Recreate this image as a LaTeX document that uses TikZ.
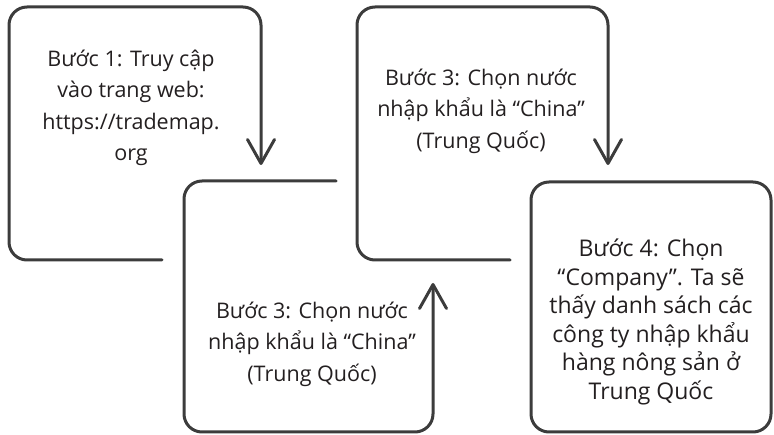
\documentclass[tikz,border=0pt]{standalone}
\usepackage{fontspec}
\setmainfont{Open Sans}
\usetikzlibrary{arrows.meta}
\definecolor{strich}{HTML}{3C3C3C}
\definecolor{schrift}{HTML}{231F20}
\tikzset{
	rahmen/.style={draw=strich, line width=3pt, line cap=round, line join=round, rounded corners=18pt},
	pfeil/.style={-{Straight Barb[length=24pt,width=27pt,round]}},
	schritt/.style={align=center, text=schrift, inner sep=0pt, font=\fontsize{21.5}{31.5}\selectfont},
}
\begin{document}
\begin{tikzpicture}[x=1pt, y=-1pt]
	\useasboundingbox (0,0) rectangle (774,435);
	
	%Rahmen oben
	\foreach \xs/\xl/\xr in {162/9/261, 510/357/608} {
		\draw[rahmen, pfeil] (\xs,260) -- (\xl,260) -- (\xl,7) -- (\xr,7) -- (\xr,165);
	}
	
	%Rahmen unten
	\draw[rahmen, pfeil] (336,181) -- (184,181) -- (184,432) -- (433,432) -- (433,283);
	\draw[rahmen] (531,182) rectangle (771,432);
	
	%Texte
	\node[schritt] (s1) at (131,108) {Bước 1: Truy cập\\vào trang web:\\https://trademap.\\org};
	\node[schritt] (s2) at (312,344) {Bước 3: Chọn nước\\nhập khẩu là “China”\\(Trung Quốc)};
	\node[schritt] (s3) at (481,111) {Bước 3: Chọn nước\\nhập khẩu là “China”\\(Trung Quốc)};
	\node[schritt, font=\fontsize{23}{28.5}\selectfont] (s4) at (651,322) {Bước 4: Chọn\\“Company”. Ta sẽ\\thấy danh sách các\\công ty nhập khẩu\\hàng nông sản ở\\Trung Quốc};
\end{tikzpicture}
\end{document}
